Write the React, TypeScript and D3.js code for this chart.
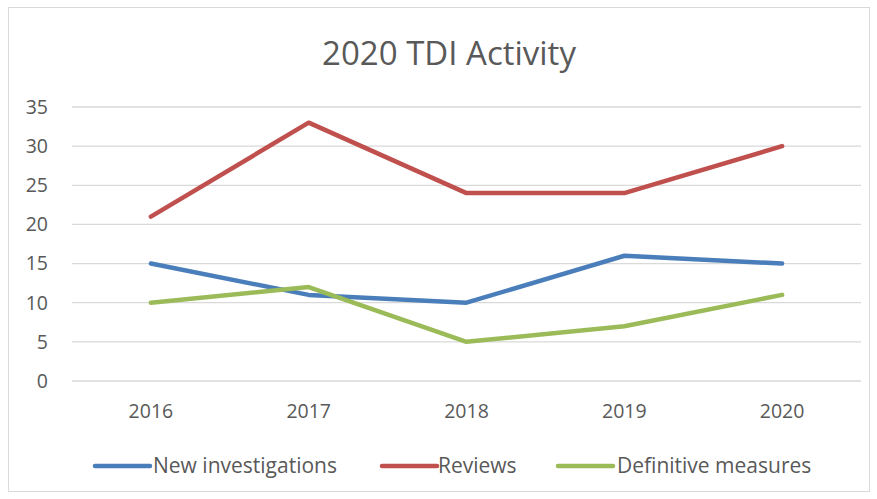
import React from "react";
import * as d3 from "d3";

const years = ["2016", "2017", "2018", "2019", "2020"];
const newInvestigations = [15, 11, 10, 16, 15];
const reviews = [21, 33, 24, 24, 30];
const definitiveMeasures = [10, 12, 5, 7, 11];
const yTicks = [0, 5, 10, 15, 20, 25, 30, 35];
const seriesNames = ["New investigations", "Reviews", "Definitive measures"];
const seriesColors = ["#4A7EBB", "#C0504D", "#9BBB59"];

const W = 877;
const H = 499;
const FONT = "'Open Sans', sans-serif";
const TEXT = "#595959";

export default function App() {
  const x = d3.scalePoint<string>().domain(years).range([72, 861]).padding(0.5);
  const y = d3.scaleLinear().domain([0, 35]).range([381, 107]);
  const line = d3
    .line<number>()
    .x((_, i) => x(years[i]) as number)
    .y((d) => y(d));
  const series = [newInvestigations, reviews, definitiveMeasures];

  const legendItems = [
    { lx: 95, tx: 153 },
    { lx: 382, tx: 438 },
    { lx: 558, tx: 617 },
  ];

  return (
    <svg
      width={W}
      height={H}
      style={{ position: "absolute", left: 0, top: 0, background: "#fff" }}
      fontFamily={FONT}
    >
      <rect x={0} y={0} width={W} height={H} fill="#fff" />
      <rect x={8.5} y={7.5} width={861} height={484} fill="none" stroke="#D9D9D9" strokeWidth={1} />
      <text x={449} y={53} dy="0.35em" textAnchor="middle" fontSize={33} fill={TEXT}>
        2020 TDI Activity
      </text>
      {yTicks.map((t) => (
        <g key={t}>
          <line x1={72} x2={861} y1={y(t)} y2={y(t)} stroke="#D9D9D9" strokeWidth={1.3} />
          <text x={48} y={y(t)} dy="0.35em" textAnchor="end" fontSize={19.5} fill={TEXT}>
            {t}
          </text>
        </g>
      ))}
      {years.map((yr) => (
        <text key={yr} x={x(yr)} y={411} dy="0.35em" textAnchor="middle" fontSize={19.5} fill={TEXT}>
          {yr}
        </text>
      ))}
      {series.map((s, i) => (
        <path
          key={i}
          d={line(s) || ""}
          fill="none"
          stroke={seriesColors[i]}
          strokeWidth={4.5}
          strokeLinecap="round"
          strokeLinejoin="round"
        />
      ))}
      {seriesNames.map((n, i) => (
        <g key={n}>
          <line
            x1={legendItems[i].lx}
            x2={legendItems[i].lx + 55}
            y1={466}
            y2={466}
            stroke={seriesColors[i]}
            strokeWidth={4.5}
            strokeLinecap="round"
          />
          <text x={legendItems[i].tx} y={466} dy="0.35em" fontSize={21} fill={TEXT}>
            {n}
          </text>
        </g>
      ))}
    </svg>
  );
}
